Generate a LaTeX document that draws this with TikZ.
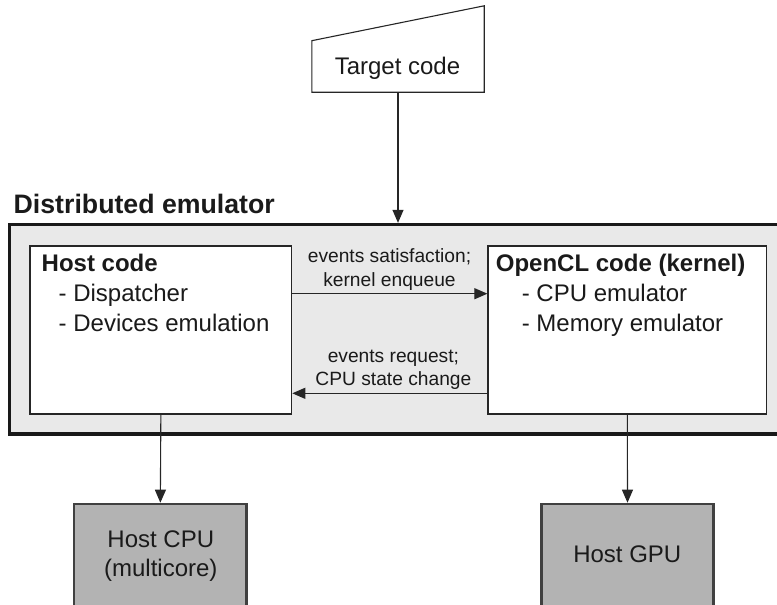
\documentclass[tikz,border=0pt]{standalone}
\usepackage{fontspec}
\setmainfont{Liberation Sans}
\usetikzlibrary{arrows.meta}
\definecolor{emufill}{HTML}{E9E9E9}
\definecolor{hwfill}{HTML}{B3B3B3}
\definecolor{ink}{HTML}{1A1A1A}
\tikzset{
  arr/.style={draw=black!85, line width=1.1pt, -{Triangle[length=13pt,width=11pt]}},
  emubox/.style={draw=black!90, line width=3.3pt, fill=emufill, rectangle, inner sep=0pt},
  codebox/.style={draw=black!85, line width=1.2pt, fill=white, rectangle, inner sep=0pt},
  hwbox/.style={draw=black!75, line width=2.6pt, fill=hwfill, rectangle, inner sep=0pt},
  tgtshape/.style={draw=black!85, line width=1.1pt, fill=white},
  plain/.style={inner sep=0pt, text=ink},
  big/.style={plain, font=\fontsize{24}{29}\selectfont},
  inner/.style={plain, font=\fontsize{24}{30}\selectfont},
  innerb/.style={plain, font=\bfseries\fontsize{24}{30}\selectfont},
  lbl/.style={plain, align=center, font=\fontsize{19.2}{23.7}\selectfont},
}
\begin{document}
\begin{tikzpicture}[x=1pt,y=-1pt]
\useasboundingbox (0,0) rectangle (777,605);

% Target code
\node[inner sep=0pt, minimum width=172pt, minimum height=86pt] (tgt) at (398,49) {};
\coordinate (tl) at (312,40.7);
\draw[tgtshape] (tgt.south west) -- (tgt.south west |- tl) -- (tgt.north east) -- (tgt.south east) -- cycle;
\node[big, anchor=base] (tgttext) at (397.5,74) {Target code};

% Distributed emulator
\node[plain, anchor=base west, font=\bfseries\fontsize{26.7}{32}\selectfont] (title) at (13.5,213) {Distributed emulator};
\node[emubox, minimum width=790.5pt, minimum height=209.5pt] (emu) at (404.75,329.25) {};

\draw[arr] (tgt.south) -- (tgt.south |- emu.north);

% Host code box
\node[codebox, minimum width=261.7pt, minimum height=168pt] (host) at (160.85,330) {};
\node[innerb, anchor=base west] (hosttitle) at (41.5,271) {Host code};
\node[inner, anchor=base west] (disp) at (58.5,301) {- Dispatcher};
\node[inner, anchor=base west] (devs) at (58.5,331.5) {- Devices emulation};

% OpenCL box
\node[codebox, minimum width=278.7pt, minimum height=168pt] (ocl) at (627.35,330) {};
\node[innerb, anchor=base west] (ocltitle) at (495.7,271) {OpenCL code (kernel)};
\node[inner, anchor=base west] (cpuemu) at (521.6,301.5) {- CPU emulator};
\node[inner, anchor=base west] (mememu) at (521.6,331.5) {- Memory emulator};

% Horizontal connectors
\coordinate (ya) at (0,293.7);
\coordinate (yb) at (0,393.3);
\draw[arr] (host.east |- ya) -- (ocl.west |- ya);
\draw[arr] (ocl.west |- yb) -- (host.east |- yb);
\node[lbl, anchor=south] (lab1) at (389.5,290.7) {events satisfaction;\\kernel enqueue};
\node[lbl, anchor=south] (lab2) at (393.4,390) {events request;\\CPU state change};

% Hardware boxes
\node[hwbox, minimum width=172.7pt, minimum height=116pt] (cpu) at (160.35,562) {};
\node[big, align=center, anchor=south] (cputext) at (160.8,582) {Host CPU\\(multicore)};
\node[hwbox, minimum width=171.6pt, minimum height=116pt] (gpu) at (627.5,562) {};
\node[big, anchor=base] (gputext) at (627.3,562.7) {Host GPU};

\draw[arr] (host.south) -- (cpu.north);
\draw[arr] (ocl.south) -- (gpu.north);
\end{tikzpicture}
\end{document}
